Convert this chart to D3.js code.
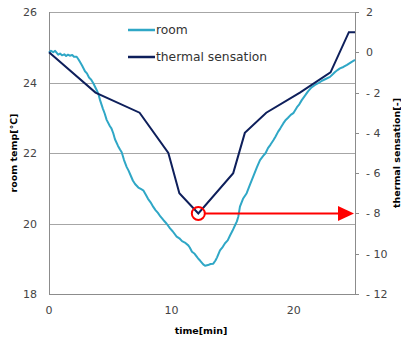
<!DOCTYPE html>
<html>
<head>
<meta charset="utf-8">
<script src="https://cdn.jsdelivr.net/npm/d3@7"></script>
<style>
  body { margin: 0; background: #fff; }
  svg { display: block; font-family: "DejaVu Sans", Verdana, sans-serif; }
  .tick-label { fill: #444; font-size: 11px; }
  .axis-title { fill: #000; font-size: 9.5px; font-weight: bold; }
  .legend-text { fill: #333; font-size: 12.3px; }
</style>
</head>
<body>
<div id="chart"></div>
<script>
// room temperature [C] vs time [min]
const roomTime = [0, 0.16, 0.35, 0.5, 0.75, 0.9, 1.06, 1.25, 1.4, 1.55, 1.7, 1.9, 2.04, 2.26, 2.4, 2.5, 2.7, 2.94, 3.1, 3.27, 3.45, 3.62, 3.9, 4.05, 4.17, 4.4, 4.55, 4.71, 4.98, 5.1, 5.25, 5.39, 5.64, 5.8, 5.94, 6.13, 6.35, 6.5, 6.7, 6.85, 7.03, 7.3, 7.5, 7.7, 7.9, 8.09, 8.3, 8.52, 8.7, 8.9, 9.1, 9.34, 9.6, 9.89, 10.1, 10.43, 10.65, 10.87, 11.1, 11.38, 11.5, 11.68, 11.9, 12.07, 12.2, 12.34, 12.6, 12.75, 12.99, 13.2, 13.42, 13.6, 13.73, 13.97, 14.2, 14.38, 14.6, 14.79, 15.0, 15.2, 15.35, 15.47, 15.6, 15.85, 16.15, 16.42, 16.69, 16.99, 17.24, 17.5, 17.7, 17.89, 18.1, 18.33, 18.5, 18.71, 18.9, 19.14, 19.3, 19.53, 19.75, 19.96, 20.26, 20.45, 20.65, 20.9, 21.16, 21.45, 21.73, 22.0, 22.3, 22.6, 22.96, 23.2, 23.37, 23.6, 23.77, 24.05, 24.35, 24.7, 25];
const roomTemp = [24.85, 24.9, 24.86, 24.9, 24.79, 24.82, 24.77, 24.8, 24.75, 24.79, 24.76, 24.78, 24.73, 24.73, 24.66, 24.6, 24.48, 24.32, 24.26, 24.14, 24.08, 23.98, 23.78, 23.66, 23.5, 23.26, 23.12, 22.94, 22.76, 22.7, 22.56, 22.39, 22.2, 22.1, 22.02, 21.8, 21.6, 21.5, 21.34, 21.22, 21.12, 21.02, 20.98, 20.94, 20.82, 20.7, 20.6, 20.47, 20.38, 20.3, 20.2, 20.1, 20.0, 19.86, 19.78, 19.63, 19.58, 19.5, 19.46, 19.38, 19.32, 19.2, 19.14, 19.06, 19.0, 18.95, 18.84, 18.8, 18.82, 18.85, 18.86, 18.95, 19.04, 19.24, 19.34, 19.44, 19.52, 19.66, 19.8, 19.95, 20.06, 20.2, 20.48, 20.7, 20.86, 21.1, 21.34, 21.6, 21.8, 21.92, 22.0, 22.14, 22.24, 22.36, 22.46, 22.6, 22.7, 22.84, 22.92, 23.0, 23.08, 23.13, 23.3, 23.38, 23.5, 23.62, 23.75, 23.86, 23.93, 23.98, 24.05, 24.1, 24.16, 24.24, 24.3, 24.36, 24.4, 24.44, 24.5, 24.58, 24.64];

// thermal sensation [-] vs time [min]
const thermalTime = [0, 3.8, 7.4, 9.75, 10.65, 12.2, 15.05, 16.0, 17.75, 20.5, 23.0, 24.5, 25];
const thermalValue = [0, -2, -3, -5, -7, -8, -6, -4, -3, -2, -1, 1, 1];

// axis ticks
const xTicks = [0, 10, 20];
const leftTicks = [18, 20, 22, 24, 26];
const rightTicks = [2, 0, -2, -4, -6, -8, -10, -12];
const rightTickLabels = ["2", "0", "- 2", "- 4", "- 6", "- 8", "- 10", "- 12"];

const seriesNames = ["room", "thermal sensation"];
const seriesColors = ["#2fa7c6", "#0e1f5b"];

const width = 401, height = 339;
const margin = {top: 12, right: 46, bottom: 45, left: 49};
const w = width - margin.left - margin.right;
const h = height - margin.top - margin.bottom;

const svg = d3.select("#chart").append("svg")
    .attr("width", width)
    .attr("height", height);

const x = d3.scaleLinear().domain([0, 25]).range([margin.left, margin.left + w]);
const yL = d3.scaleLinear().domain([18, 26]).range([margin.top + h, margin.top]);
const yR = d3.scaleLinear().domain([-12, 2]).range([margin.top + h, margin.top]);

// gridlines
svg.append("g")
    .selectAll("line")
    .data(leftTicks.filter(d => d > 18))
    .enter().append("line")
    .attr("x1", x(0)).attr("x2", x(25))
    .attr("y1", d => Math.round(yL(d)) + 0.5)
    .attr("y2", d => Math.round(yL(d)) + 0.5)
    .attr("stroke", "#a6a6a6")
    .attr("stroke-width", 1);

// axis lines
const axisColor = "#8c8c8c";
svg.append("line")
    .attr("x1", Math.round(x(0)) + 0.5).attr("x2", Math.round(x(0)) + 0.5)
    .attr("y1", yL(26)).attr("y2", yL(18))
    .attr("stroke", axisColor);
svg.append("line")
    .attr("x1", Math.round(x(25)) + 0.5).attr("x2", Math.round(x(25)) + 0.5)
    .attr("y1", yL(26)).attr("y2", yL(18))
    .attr("stroke", axisColor);
svg.append("line")
    .attr("x1", x(0)).attr("x2", x(25))
    .attr("y1", Math.round(yL(18)) + 0.5).attr("y2", Math.round(yL(18)) + 0.5)
    .attr("stroke", axisColor);

// right axis tick marks
svg.append("g")
    .selectAll("line")
    .data(rightTicks)
    .enter().append("line")
    .attr("x1", x(25)).attr("x2", x(25) + 4)
    .attr("y1", d => Math.round(yR(d)) + 0.5)
    .attr("y2", d => Math.round(yR(d)) + 0.5)
    .attr("stroke", axisColor);

// tick labels
svg.append("g")
    .selectAll("text")
    .data(leftTicks)
    .enter().append("text")
    .attr("class", "tick-label")
    .attr("x", x(0) - 12)
    .attr("y", d => yL(d) + 4)
    .attr("text-anchor", "end")
    .text(d => d);

svg.append("g")
    .selectAll("text")
    .data(rightTicks)
    .enter().append("text")
    .attr("class", "tick-label")
    .attr("x", x(25) + 11)
    .attr("y", d => yR(d) + 4)
    .text((d, i) => rightTickLabels[i]);

svg.append("g")
    .selectAll("text")
    .data(xTicks)
    .enter().append("text")
    .attr("class", "tick-label")
    .attr("x", d => x(d))
    .attr("y", yL(18) + 20)
    .attr("text-anchor", "middle")
    .text(d => d);

// axis titles
svg.append("text")
    .attr("class", "axis-title")
    .attr("transform", `translate(17,${margin.top + h / 2}) rotate(-90)`)
    .attr("text-anchor", "middle")
    .text("room temp[℃]");

svg.append("text")
    .attr("class", "axis-title")
    .attr("transform", `translate(400,${margin.top + h / 2}) rotate(-90)`)
    .attr("text-anchor", "middle")
    .text("thermal sensation[-]");

svg.append("text")
    .attr("class", "axis-title")
    .attr("x", 201)
    .attr("y", 334)
    .attr("text-anchor", "middle")
    .text("time[min]");

// series
const roomLine = d3.line()
    .x((d, i) => x(roomTime[i]))
    .y(d => yL(d));

const thermalLine = d3.line()
    .x((d, i) => x(thermalTime[i]))
    .y(d => yR(d));

svg.append("path")
    .datum(roomTemp)
    .attr("d", roomLine)
    .attr("fill", "none")
    .attr("stroke", seriesColors[0])
    .attr("stroke-width", 2)
    .attr("stroke-linejoin", "round");

svg.append("path")
    .datum(thermalValue)
    .attr("d", thermalLine)
    .attr("fill", "none")
    .attr("stroke", seriesColors[1])
    .attr("stroke-width", 2);

// annotation: minimum of thermal sensation, arrow to right axis
const minIdx = d3.minIndex(thermalValue);
const cx = x(thermalTime[minIdx]), cy = yR(thermalValue[minIdx]);
const r = 6.5;

svg.append("line")
    .attr("x1", cx + r).attr("x2", x(25) - 16)
    .attr("y1", cy).attr("y2", cy)
    .attr("stroke", "#ff0000")
    .attr("stroke-width", 2);

svg.append("path")
    .attr("d", `M${x(25) - 17},${cy - 7.5}L${x(25) - 1},${cy}L${x(25) - 17},${cy + 7.5}Z`)
    .attr("fill", "#ff0000");

svg.append("circle")
    .attr("cx", cx).attr("cy", cy).attr("r", r)
    .attr("fill", "none")
    .attr("stroke", "#ff0000")
    .attr("stroke-width", 2);

// legend
const legend = svg.append("g")
    .selectAll("g")
    .data(seriesNames)
    .enter().append("g")
    .attr("transform", (d, i) => `translate(128,${30 + i * 27})`);

legend.append("line")
    .attr("x1", 0).attr("x2", 27)
    .attr("stroke", (d, i) => seriesColors[i])
    .attr("stroke-width", 2.5);

legend.append("text")
    .attr("class", "legend-text")
    .attr("x", 28)
    .attr("y", 4)
    .text(d => d);
</script>
</body>
</html>
